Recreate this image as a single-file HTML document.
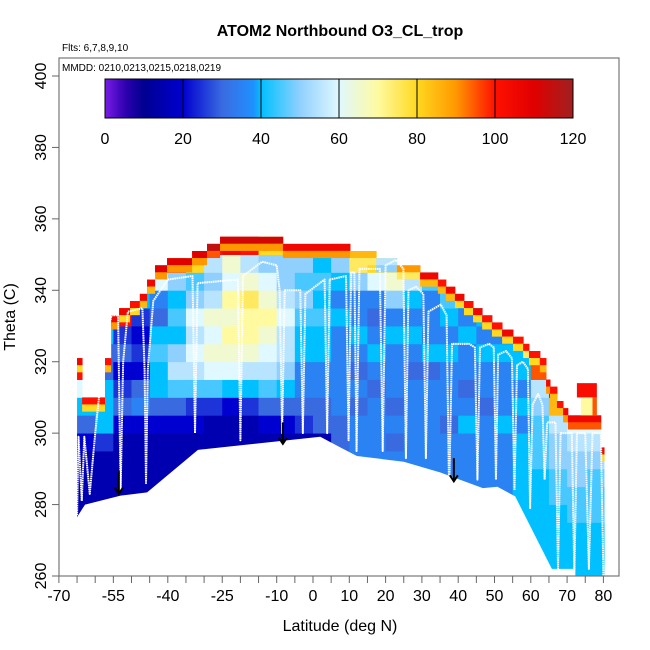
<!DOCTYPE html>
<html><head><meta charset="utf-8">
<style>
html,body{margin:0;padding:0;background:#fff;}
svg{display:block;font-family:"Liberation Sans",Arial,sans-serif;}
</style></head>
<body>
<svg id="chart" width="650" height="650" viewBox="0 0 650 650">
  <defs>
    <clipPath id="plotclip"><rect x="59" y="58" width="560" height="518"/></clipPath>
    <linearGradient id="cbgrad" x1="0" x2="1" y1="0" y2="0"></linearGradient>
  </defs>
  <text x="340" y="36" text-anchor="middle" font-size="16" font-weight="bold">ATOM2 Northbound O3_CL_trop</text>
  <text x="62" y="51" font-size="10">Flts: 6,7,8,9,10</text>
  <g id="heat" clip-path="url(#plotclip)"></g>
  <g id="profiles" clip-path="url(#plotclip)"></g>
  <g id="arrows"></g>
  <rect x="59" y="58" width="560" height="518" fill="none" stroke="#777" stroke-width="1.2"/>
  <text x="62" y="71" font-size="10">MMDD: 0210,0213,0215,0218,0219</text>
  <g id="colorbar"></g>
  <g id="xaxis"></g>
  <g id="yaxis"></g>
  <text x="340" y="631" text-anchor="middle" font-size="16">Latitude (deg N)</text>
  <text transform="translate(15,317) rotate(-90)" text-anchor="middle" font-size="16">Theta (C)</text>
</svg>
<script>
// ---- data ----
const colorVals = [0,5,10,20,30,38,40,50,60,70,80,90,100,110,120];
const colorHex = ["#7a1ee8","#3000b0","#000090","#0000d0","#3a6ae0","#2090ff","#00c0ff","#90d0ff","#e0f8ff","#fffaa0","#ffd820","#ff9800","#ff1000","#e00000","#a02020"];
const cbTicks = [0,20,40,60,80,100,120];
const xTickLabels = [-70,-55,-40,-25,-10,0,10,20,30,40,50,60,70,80];
const yTickLabels = [260,280,300,320,340,360,380,400];
// 5-degree latitude bins starting at -70, rows of 5 K starting at 260; char index*5 = ppbv
const binStart = -70;
const rowStart = 260;
const colCodes = [
 "3333333468CKKKKKKKK","3333333468CKKKKKKKK","33333335888668KKKKK","33333333465465KKKKK",
 "3333333347645458KKK","3333333346889867CKK","33333333469BA898AJK","33333333459BCBCA9GK",
 "33333333359CDCDBABK","33333333348CDEDECDL","33333333358BDEEFDBK","33333333469BCDEDCAG",
 "33333333468ABBCBAAG","333333335677889A9AG","333333336677889898I","66666666677777878AK",
 "7777777776767877AFI","7777777777678767CGG","777777767677787ADFK","7777777777767878BGK",
 "77777777777687779IK","7777777767778789JKK","7777777787677878JKK","777777777677878IKKK",
 "77777777877787BJKKK","8888888878788JKKKKK","888888999ABJKKKKKKK","888899AABHKKKKKKKKK",
 "88899AABCKKKKKKKKKK","888999ABCIKKKKKKKKK","88899ABHKKKKKKKKKKK"
];
const codeChars = "0123456789ABCDEFGHIJKLMNOPQRSTUVWXY";
const segLat0 = [-65,-63.6,-57.3,-55.6,-53.4,-50.4,-47.7,-45.7,-43.5,-40.2,-33.3,-29.2,-25.6,-8.3,10.2,17.4,23.1,29.5,34.4,36.6,39.1,41.6,44.1,46.6,49.3,52.1,55.1,57.9,59.5,62.5,64.2,65.3,67.2,68.9,70.2,79.3];
const segLat1 = [-63.6,-57.3,-55.6,-53.4,-50.4,-47.7,-45.7,-43.5,-40.2,-33.3,-29.2,-25.6,-8.3,10.2,17.4,23.1,29.5,34.4,36.6,39.1,41.6,44.1,46.6,49.3,52.1,55.1,57.9,59.5,62.5,64.2,65.3,67.2,68.9,70.2,79.3,80.2];
const segTop = [321,310,321,333,335,337,339,343,347,349,351,353,355,353,351,349,347,345,343,341,339,337,335,333,331,329,327,325,323,321,315,313,309,307,305,296];
const capTop = [105,100,100,105,105,100,105,105,110,110,110,115,112,105,85,55,90,105,100,105,105,100,105,100,100,105,100,100,100,100,105,100,100,105,105,105];
const capMid = [80,80,85,90,80,80,85,85,90,90,90,95,90,90,75,50,75,85,85,85,80,80,80,80,80,80,80,75,80,85,90,85,85,90,95,80];
const botLat = [-65,-62.8,-53,-45.7,-31.7,2,7.5,12.1,25,35,46.8,50.8,55.7,65.8,72,72.1,81];
const botTheta = [276.5,280,282.5,283.4,295.3,299,296,293.6,292,289,284.6,285,282.3,262,262,259,259];
const islandLat = [72.7,73.8,77.0];
const islandLat1 = [78.2,77.0,78.2];
const islandTh0 = [310,305,305];
const islandTh1 = [314,310,310];
const islandVal = [102,70,95];
const profLat = [-65,-64.6,-63.7,-63,-61.5,-60,-57.5,-55.5,-53.7,-53,-52.3,-51,-47,-46.4,-46,-45.5,-44,-40,-33.2,-32.5,-31.8,-20.7,-20,-19.3,-14,-10,-9.2,-8.5,-7.8,-3.5,-2.8,-2.1,3.2,3.9,4.6,9.1,9.8,10.5,11.4,12,12.8,18.4,19.2,20,22.9,24.9,25.6,26.3,28.4,30.4,31.1,31.8,35.2,36.8,37.5,38.3,43,44.6,45.3,46,48.5,49.8,50.4,51,53.2,54.8,55.5,56.2,57.8,59.2,59.8,60.5,62,63.2,63.8,64.5,66.8,67.5,68.2,71.3,72,72.7,75,76,77,79.3,80];
const profTheta = [277,299,281,299,283,300,324,333,333,284,320,334,335,318,286,318,337,343,344,300,342,343,298,344,348,347,340,300,340,340,300,339,343,300,343,344,298,345,345,295,346,346,295,347,348.5,346,293,340,341,339,293,334,336,333,283,325,325,324,287,324,325,324,287,322,323,321,284,319,320,318,279,308,311,308,287,303,303,262,300,300,260,300,300,262,300,300,260];
const arrowLat = [-53.5,-8.3,38.8];
const arrowTheta0 = [289.5,303,293];
const arrowTheta1 = [283,297,286.5];

// ---- scales ----
const X = lat => 313 + 3.63*lat;
const Y = th => 576 - (th-260)*3.5714;
const NS = "http://www.w3.org/2000/svg";
function hex2rgb(h){return [parseInt(h.substr(1,2),16),parseInt(h.substr(3,2),16),parseInt(h.substr(5,2),16)];}
function color(v){
  v=Math.max(0,Math.min(120,v));
  for(let i=0;i<colorVals.length-1;i++){
    if(v<=colorVals[i+1]){
      const t=(v-colorVals[i])/(colorVals[i+1]-colorVals[i]);
      const a=hex2rgb(colorHex[i]),b=hex2rgb(colorHex[i+1]);
      return "rgb("+a.map((c,k)=>Math.round(c+(b[k]-c)*t)).join(",")+")";
    }
  }
  return colorHex[colorHex.length-1];
}
function mk(tag,attrs,parent){const e=document.createElementNS(NS,tag);for(const k in attrs)e.setAttribute(k,attrs[k]);parent.appendChild(e);return e;}

// ---- heatmap ----
const heat=document.getElementById("heat");
for(let s=0;s<segLat0.length;s++){
  for(let b=0;b<colCodes.length;b++){
    const b0=binStart+5*b,b1=b0+5;
    const l0=Math.max(b0,segLat0[s]),l1=Math.min(b1,segLat1[s]);
    if(l1<=l0)continue;
    const code=colCodes[b];
    for(let r=0;r<code.length;r++){
      const t0=rowStart+5*r; if(t0>=segTop[s])break;
      const t1=Math.min(t0+5,segTop[s]);
      const rc=mk("rect",{x:X(l0),y:Y(t1),width:X(l1)-X(l0)+0.4,height:Y(t0)-Y(t1)+0.4,fill:color(codeChars.indexOf(code[r])*5)},heat);
      
      
    }
  }
  const c1=mk("rect",{x:X(segLat0[s]),y:Y(segTop[s]),width:X(segLat1[s])-X(segLat0[s])+0.4,height:7.2,fill:color(capTop[s])},heat);
  
  
  const c2=mk("rect",{x:X(segLat0[s]),y:Y(segTop[s])+7,width:X(segLat1[s])-X(segLat0[s])+0.4,height:7.2,fill:color(capMid[s])},heat);
  
  
}
for(let i=0;i<islandLat.length;i++){
  const ir=mk("rect",{x:X(islandLat[i]),y:Y(islandTh1[i]),width:X(islandLat1[i])-X(islandLat[i]),height:Y(islandTh0[i])-Y(islandTh1[i]),fill:color(islandVal[i])},heat);
  
  
}
// white mask below the lower boundary
let pts=botLat.map((l,i)=>X(l)+","+Y(botTheta[i]));
pts.push(X(botLat[botLat.length-1])+","+(Y(260)+10));
pts.push(X(botLat[0]-3)+","+(Y(260)+10));
pts.push(X(botLat[0]-3)+","+Y(botTheta[0]));
const mask=mk("polygon",{points:pts.join(" "),fill:"#fff"},heat);



// ---- flight profiles ----
const prof=document.getElementById("profiles");
const pl=mk("polyline",{points:profLat.map((l,i)=>X(l)+","+Y(profTheta[i])).join(" "),fill:"none",stroke:"#fff","stroke-width":2,"stroke-dasharray":"1.6 0.6","stroke-linejoin":"round"},prof);



// ---- arrows ----
const ar=document.getElementById("arrows");
for(let i=0;i<arrowLat.length;i++){
  const x=X(arrowLat[i]),y0=Y(arrowTheta0[i]),y1=Y(arrowTheta1[i]);
  const a=mk("path",{d:`M${x},${y0} L${x},${y1} M${x-4},${y1-6} L${x},${y1} L${x+4},${y1-6}`,stroke:"#000","stroke-width":2,fill:"none"},ar);
  
  
}

// ---- colorbar ----
const grad=document.getElementById("cbgrad");
for(let v=0;v<=120;v+=2){mk("stop",{offset:(v/120),"stop-color":color(v)},grad);}
const cb=document.getElementById("colorbar");
const cbx0=105,cbx1=573,cby0=79,cby1=118;
const cbr=mk("rect",{x:cbx0,y:cby0,width:cbx1-cbx0,height:cby1-cby0,fill:"url(#cbgrad)",stroke:"#000","stroke-width":1},cb);


cbTicks.forEach(v=>{
  const x=cbx0+(cbx1-cbx0)*v/120;
  if(v>0&&v<120){const ln=mk("line",{x1:x,x2:x,y1:cby0,y2:cby1,stroke:"#000","stroke-width":1},cb);
    
    }
  const t=mk("text",{x:x,y:144,"text-anchor":"middle","font-size":16},cb);t.textContent=v;
  
  
});

// ---- axes ----
const xa=document.getElementById("xaxis");
for(let l=-70;l<=84;l+=5){
  const tk=mk("line",{x1:X(l),x2:X(l),y1:576,y2:583,stroke:"#666","stroke-width":1},xa);
  
  
}
xTickLabels.forEach(l=>{
  const t=mk("text",{x:X(l),y:601,"text-anchor":"middle","font-size":16},xa);t.textContent=l;
  
  
});
const ya=document.getElementById("yaxis");
yTickLabels.forEach(v=>{
  const tk=mk("line",{x1:52,x2:59,y1:Y(v),y2:Y(v),stroke:"#666","stroke-width":1},ya);
  
  
  const t=mk("text",{transform:`translate(46,${Y(v)}) rotate(-90)`,"text-anchor":"middle","font-size":16},ya);t.textContent=v;
  
  
});
</script>
</body></html>
